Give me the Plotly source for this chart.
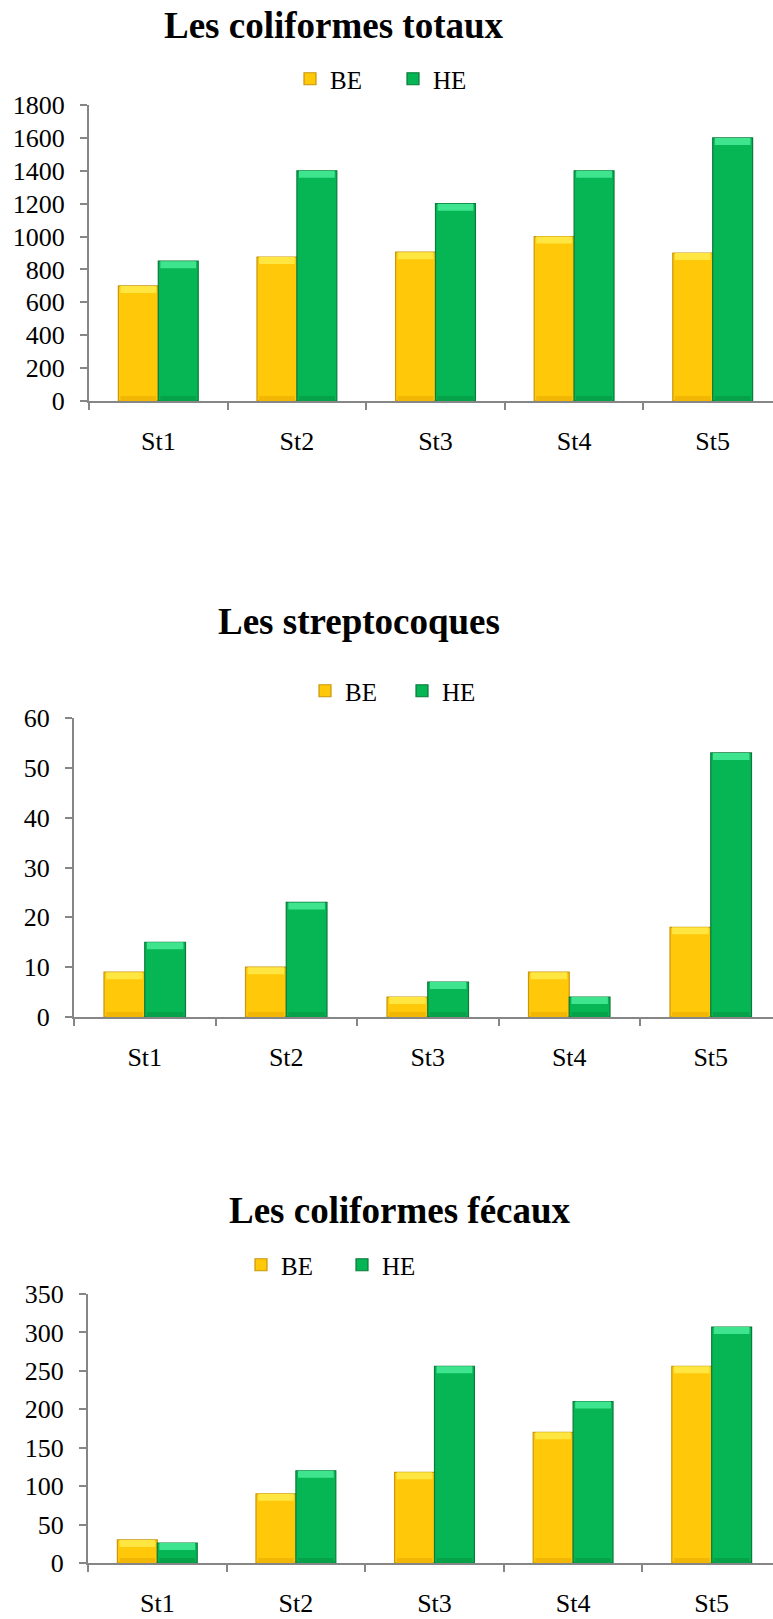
import plotly.graph_objects as go

# Stations and counts (BE / HE) for the three bacteriological groups
stations = ["St1", "St2", "St3", "St4", "St5"]

totaux_be = [700, 875, 905, 1000, 900]
totaux_he = [850, 1400, 1200, 1400, 1600]

strepto_be = [9, 10, 4, 9, 18]
strepto_he = [15, 23, 7, 4, 53]

fecaux_be = [30, 90, 118, 170, 256]
fecaux_he = [26, 120, 256, 210, 307]

W, H = 773, 1619
FONT = "Liberation Serif"
AXIS_GREY = "#868686"

BE_FILL, BE_EDGE, BE_TOP, BE_FOOT = "#FFC90A", "#C9960C", "#FFE640", "#F2B705"
HE_FILL, HE_EDGE, HE_TOP, HE_FOOT = "#06B554", "#0B7A3A", "#3FE58E", "#05A24A"

BAR_W = 0.288  # width of one bar in category units

# Panel geometry in pixels (left edge of plot, top/bottom of y range)
panels = [
    dict(title="Les coliformes totaux", be=totaux_be, he=totaux_he,
         ymax=1800, dtick=200, left=89, top=105, bottom=401, cat_w=138.6,
         title_x=334, title_y=25, leg_x=290, leg_y=79, entry=58),
    dict(title="Les streptocoques", be=strepto_be, he=strepto_he,
         ymax=60, dtick=10, left=74, top=718, bottom=1017, cat_w=141.5,
         title_x=359, title_y=621, leg_x=305, leg_y=691, entry=52),
    dict(title="Les coliformes fécaux", be=fecaux_be, he=fecaux_he,
         ymax=350, dtick=50, left=88, top=1294, bottom=1563, cat_w=138.6,
         title_x=400, title_y=1210, leg_x=241, leg_y=1265, entry=56),
]


def py(px):
    """Pixel row -> paper fraction."""
    return 1 - px / H


fig = go.Figure()
annotations = []
layout_extra = {}

for i, p in enumerate(panels):
    n = "" if i == 0 else str(i + 1)
    xa, ya = "x" + n, "y" + n
    leg = "legend" + n

    units_per_px = p["ymax"] / (p["bottom"] - p["top"])
    top_strip = 7 * units_per_px
    foot_strip = 5 * units_per_px

    for name, vals, fill, edge, top, foot, off in [
        ("BE", p["be"], BE_FILL, BE_EDGE, BE_TOP, BE_FOOT, -BAR_W),
        ("HE", p["he"], HE_FILL, HE_EDGE, HE_TOP, HE_FOOT, 0.0),
    ]:
        fig.add_trace(go.Bar(
            x=stations, y=vals, name=name, xaxis=xa, yaxis=ya,
            width=BAR_W, offset=off, legend=leg,
            marker=dict(color=fill, line=dict(color=edge, width=1.2)),
        ))
        # bevel highlight along the top of each bar
        fig.add_trace(go.Bar(
            x=stations, y=[top_strip] * len(vals),
            base=[v - top_strip for v in vals],
            xaxis=xa, yaxis=ya, width=BAR_W - 0.03, offset=off + 0.015,
            marker=dict(color=top, line=dict(width=0)),
            showlegend=False, hoverinfo="skip",
        ))
        # slightly darker foot of each bar
        fig.add_trace(go.Bar(
            x=stations, y=[min(foot_strip, v / 3) for v in vals],
            xaxis=xa, yaxis=ya, width=BAR_W - 0.03, offset=off + 0.015,
            marker=dict(color=foot, line=dict(width=0)),
            showlegend=False, hoverinfo="skip",
        ))

    right_range = 4.5 - ((p["left"] + 5 * p["cat_w"]) - W) / p["cat_w"]
    layout_extra["xaxis" + n] = dict(
        domain=[p["left"] / W, 1], range=[-0.5, right_range],
        anchor=ya, type="category", automargin=False,
        showline=True, linecolor=AXIS_GREY, linewidth=2,
        ticks="outside", tickson="boundaries", ticklen=7, tickwidth=1.5,
        tickcolor=AXIS_GREY, showgrid=False, zeroline=False,
        tickfont=dict(family=FONT, size=26, color="#000000"),
        ticklabelstandoff=16,
    )
    layout_extra["yaxis" + n] = dict(
        domain=[py(p["bottom"]), py(p["top"])], range=[0, p["ymax"]],
        anchor=xa, dtick=p["dtick"], tick0=0, automargin=False,
        showline=True, linecolor=AXIS_GREY, linewidth=2,
        ticks="outside", ticklen=7, tickwidth=1.5, tickcolor=AXIS_GREY,
        showgrid=False, zeroline=False,
        tickfont=dict(family=FONT, size=26, color="#000000"),
        ticklabelstandoff=10,
    )
    layout_extra[leg] = dict(
        orientation="h", x=p["leg_x"] / W, y=py(p["leg_y"]),
        xanchor="left", yanchor="middle", entrywidth=p["entry"],
        font=dict(family=FONT, size=25, color="#000000"),
        bgcolor="rgba(0,0,0,0)", itemclick=False,
    )
    annotations.append(dict(
        text="<b>" + p["title"] + "</b>", x=p["title_x"] / W, y=py(p["title_y"]),
        xref="paper", yref="paper", xanchor="center", yanchor="middle",
        showarrow=False, font=dict(family=FONT, size=37, color="#000000"),
    ))

fig.update_layout(
    width=W, height=H, margin=dict(l=0, r=0, t=0, b=0, autoexpand=False),
    paper_bgcolor="white", plot_bgcolor="white",
    barmode="overlay", annotations=annotations,
    **layout_extra,
)

fig.write_html("out.html")
